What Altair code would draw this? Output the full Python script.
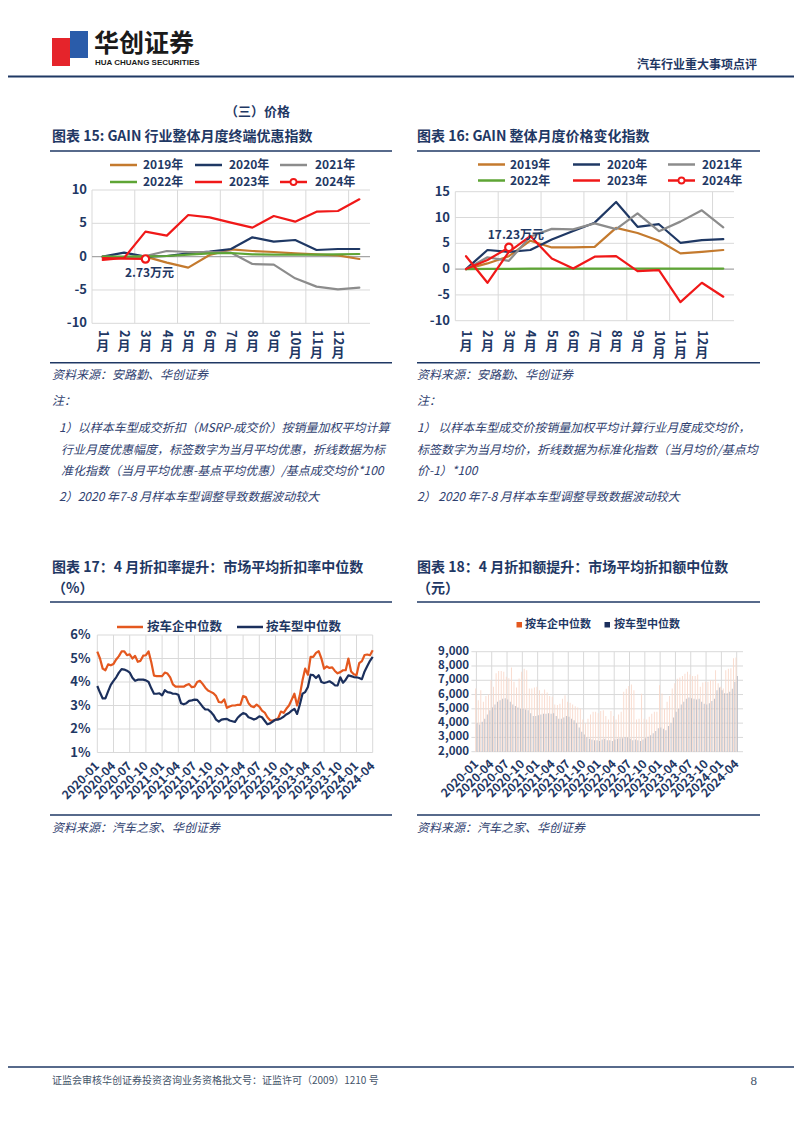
import altair as alt
import pandas as pd

OFF = 8
W, H = 786, 1117
CJK = "Noto Sans CJK SC"
NAVY = "#1F3864"
NOTE_C = "#2F4170"
GRID = "#D9D9D9"
ZERO = "#A6A6A6"
RED = "#F01818"

# ---------------- data: figures 15 / 16 ----------------
month_digits = ["1", "2", "3", "4", "5", "6", "7", "8", "9", "10", "11", "12"]
years = ["2019年", "2020年", "2021年", "2022年", "2023年", "2024年"]
year_colors = ["#C47A2E", "#1F3864", "#8C8C8C", "#5EA535", RED, RED]

f15_2019 = [0, -0.1, 0, -0.9, -1.65, 0.25, 1.1, 0.85, 0.7, 0.5, 0.35, 0.2, -0.35]
f15_2020 = [0, 0.6, 0, 0.1, 0.5, 0.75, 1.15, 2.9, 2.25, 2.5, 1.0, 1.15, 1.15]
f15_2021 = [0, -0.1, 0.1, 0.85, 0.7, 0.7, 0.6, -1.1, -1.2, -3.25, -4.5, -4.9, -4.65]
f15_2022 = [0, 0, 0.05, 0.1, 0.3, 0.5, 0.55, 0.35, 0.3, 0.3, 0.3, 0.35, 0.4]
f15_2023 = [-0.5, -0.2, 3.75, 3.15, 6.25, 5.9, 5.1, 4.35, 6.1, 5.25, 6.75, 6.85, 8.6]
f15_2024 = [-0.2, -0.3, -0.35]
f15_ticks = [10, 5, 0, -5, -10]
f15_tick_labels = ["10", "5", "0", "-5", "-10"]
f15_note = "2.73万元"

f16_2019 = [0, 1.1, 2.5, 5.5, 4.2, 4.2, 4.3, 8.0, 7.0, 5.5, 3.05, 3.35, 3.7]
f16_2020 = [0, 3.7, 3.35, 3.7, 5.75, 7.4, 9.0, 13.0, 8.2, 8.7, 5.1, 5.6, 5.8]
f16_2021 = [0, 2.3, 1.6, 6.3, 7.8, 7.7, 8.85, 7.75, 10.8, 7.35, 9.2, 11.4, 8.1]
f16_2022 = [0, 0.05, 0.05, 0.1, 0.1, 0.1, 0.1, 0.1, 0.1, 0.1, 0.1, 0.1, 0.1]
f16_2023 = [2.5, -2.65, 3.35, 6.4, 2.05, 0.1, 2.4, 2.5, -0.4, -0.2, -6.4, -2.65, -5.35]
f16_2024 = [0, 1.75, 4.2]
f16_ticks = [15, 10, 5, 0, -5, -10]
f16_tick_labels = ["15", "10", "5", "0", "-5", "-10"]
f16_note = "17.23万元"

# ---------------- data: figures 17 / 18 (half-month steps from 2020-01) ----------------
period = [k / 2 for k in range(103)]
tick_pos = [0, 3, 6, 9, 12, 15, 18, 21, 24, 27, 30, 33, 36, 39, 42, 45, 48, 51]
tick_labels = ["2020-01", "2020-04", "2020-07", "2020-10", "2021-01", "2021-04",
               "2021-07", "2021-10", "2022-01", "2022-04", "2022-07", "2022-10",
               "2023-01", "2023-04", "2023-07", "2023-10", "2024-01", "2024-04"]
series_names = ["按车企中位数", "按车型中位数"]

rate_firm = [5.29, 5.0, 4.57, 4.5, 4.75, 4.71, 4.77, 4.96, 5.1, 5.3,
             5.3, 5.14, 5.18, 5.0, 5.11, 4.86, 4.9, 5.12, 5.14, 5.3,
             4.84, 4.27, 4.25, 4.25, 4.25, 4.4, 4.36, 4.2, 3.9, 3.8,
             3.8, 3.8, 3.8, 3.87, 3.91, 3.78, 3.8, 4.0, 4.05, 3.92,
             3.76, 3.64, 3.58, 3.52, 3.4, 3.15, 3.13, 3.26, 2.9, 2.96,
             3.0, 3.0, 3.03, 3.03, 3.4, 3.36, 3.1, 2.97, 2.93, 3.04,
             2.95, 2.78, 2.7, 2.5, 2.37, 2.36, 2.39, 2.46, 2.74, 2.69,
             2.86, 3.0, 3.25, 3.5, 3.0, 3.43, 4.07, 4.57, 4.31, 5.07,
             5.07, 5.24, 5.31, 5.0, 4.57, 4.66, 4.6, 4.62, 4.47, 4.37,
             4.42, 4.5, 4.5, 5.0, 4.45, 4.33, 4.29, 4.8, 4.89, 5.15,
             5.17, 5.14, 5.35]
rate_model = [3.83, 3.55, 3.3, 3.3, 3.6, 3.88, 4.05, 4.2, 4.4, 4.55,
              4.53, 4.48, 4.4, 4.18, 4.05, 4.1, 4.1, 4.1, 4.07, 4.0,
              3.73, 3.5, 3.5, 3.52, 3.43, 3.65, 3.57, 3.55, 3.5, 3.5,
              3.46, 3.1, 3.05, 3.1, 3.2, 3.22, 3.25, 3.24, 3.1, 2.95,
              2.83, 2.83, 2.73, 2.6, 2.4, 2.31, 2.4, 2.42, 2.43, 2.36,
              2.33, 2.3, 2.48, 2.59, 2.68, 2.64, 2.5, 2.46, 2.4, 2.45,
              2.54, 2.5, 2.35, 2.2, 2.24, 2.32, 2.4, 2.4, 2.45, 2.52,
              2.62, 2.68, 2.78, 2.86, 2.64, 3.03, 3.5, 3.57, 3.79, 4.31,
              4.29, 4.17, 4.29, 4.0, 3.96, 3.99, 4.03, 3.96, 3.86, 3.85,
              4.2, 3.97, 4.1, 4.28, 4.25, 4.21, 4.2, 4.17, 4.12, 4.45,
              4.68, 4.9, 5.07]
rate_ticks = [1, 2, 3, 4, 5, 6]
rate_labels = ["1%", "2%", "3%", "4%", "5%", "6%"]

amt_firm = [6430, 5600, 6300, 5500, 5900, 6000, 7000, 6550, 7500, 7650,
            7650, 7600, 7250, 7150, 7900, 6900, 6500, 7130, 7600, 7800,
            7700, 6430, 6430, 6500, 6550, 6300, 6080, 6360, 6150, 5900,
            5850, 5300, 5270, 5350, 5700, 5950, 5500, 5430, 5300, 5180,
            5100, 5000, 4250, 4000, 4300, 4600, 4800, 4800, 4700, 4850,
            4900, 4500, 4250, 4850, 4500, 4250, 4600, 4800, 6200, 6400,
            6600, 6700, 6300, 4250, 4300, 6050, 4300, 4250, 4450, 4650,
            4800, 4800, 6650, 6080, 5000, 5500, 5900, 6430, 6800, 7100,
            7200, 7300, 7450, 7600, 7400, 7300, 7300, 7400, 6550, 6850,
            6900, 6900, 7000, 7000, 7700, 6800, 6550, 6430, 7700, 7800,
            7850, 8550, 8600]
amt_model = [4000, 3900, 4100, 4300, 4600, 4900, 5100, 5300, 5500, 5600,
             5700, 5750, 5650, 5500, 5300, 5200, 5100, 5000, 5000, 4950,
             4900, 4700, 4500, 4500, 4550, 4600, 4650, 4650, 4700, 4650,
             4700, 4500, 4300, 4300, 4400, 4500, 4450, 4300, 4200, 4000,
             3700, 3400, 3200, 3000, 2900, 2850, 2800, 2800, 2750, 2850,
             2900, 2800, 2800, 2750, 2850, 2900, 2950, 2950, 3000, 3000,
             2900, 2800, 2850, 2800, 2750, 2850, 2950, 3050, 3150, 3300,
             3450, 3650, 3700, 3600, 3500, 3800, 4000, 4400, 4800, 5000,
             5300, 5500, 5700, 5800, 5750, 5700, 5650, 5700, 5500, 5350,
             5300, 5400, 5550, 5700, 6300, 6500, 6300, 6100, 6100, 6200,
             6400, 6900, 7300]
amt_ticks = [2000, 3000, 4000, 5000, 6000, 7000, 8000, 9000]
amt_labels = ["2,000", "3,000", "4,000", "5,000", "6,000", "7,000", "8,000", "9,000"]


# ---------------- helpers ----------------
def one():
    return pd.DataFrame({"k": [0]})


def T(s, x, y, size=12, color=NAVY, weight="normal", align="left",
      baseline="middle", style="normal", font=CJK):
    return alt.Chart(pd.DataFrame({"t": [s]})).mark_text(
        fontSize=size, color=color, fontWeight=weight, align=align,
        baseline=baseline, fontStyle=style, font=font
    ).encode(text="t:N", x=alt.value(x - OFF), y=alt.value(y - OFF))


def HL(x1, x2, y, color=NAVY, w=1.5):
    return alt.Chart(one()).mark_rule(color=color, strokeWidth=w).encode(
        x=alt.value(x1 - OFF), x2=alt.value(x2 - OFF), y=alt.value(y - OFF))


def RECT(x1, y1, x2, y2, color):
    return alt.Chart(one()).mark_rect(color=color).encode(
        x=alt.value(x1 - OFF), x2=alt.value(x2 - OFF),
        y=alt.value(y1 - OFF), y2=alt.value(y2 - OFF))


def DOT(x, y, color, size=40):
    return alt.Chart(one()).mark_point(
        shape="circle", fill="white", fillOpacity=1, stroke=color,
        strokeWidth=1.8, size=size, opacity=1
    ).encode(x=alt.value(x - OFF), y=alt.value(y - OFF))


def month_panel(values, x0, x1, ytop, ybot, ydom, ticks, tick_labels_, ylab_x,
                note, note_dx, note_dy, leg_rows, leg_lines, leg_text):
    xs = alt.Scale(domain=[0.5, 13.5], range=[x0 - OFF, x1 - OFF], nice=False, zero=False)
    ys = alt.Scale(domain=ydom, range=[ybot - OFF, ytop - OFF], nice=False, zero=False)

    def X(f):
        return alt.X(f, scale=xs, axis=None)

    def Y(f):
        return alt.Y(f, scale=ys, axis=None)

    layers = []
    vg = pd.DataFrame({"g": [0.5, 2.5, 4.5, 6.5, 8.5, 10.5, 12.5]})
    layers.append(alt.Chart(vg).mark_rule(color=GRID, strokeWidth=1).encode(
        x=X("g:Q"), y=alt.value(ytop - OFF), y2=alt.value(ybot - OFF)))
    hg = pd.DataFrame({"g": [v for v in ticks if v != 0]})
    layers.append(alt.Chart(hg).mark_rule(color=GRID, strokeWidth=1).encode(
        y=Y("g:Q"), x=alt.value(x0 - OFF), x2=alt.value(x1 - OFF)))
    layers.append(alt.Chart(pd.DataFrame({"g": [0]})).mark_rule(color=ZERO, strokeWidth=1.2).encode(
        y=Y("g:Q"), x=alt.value(x0 - OFF), x2=alt.value(x1 - OFF)))
    for vals, c in zip(values, year_colors):
        df = pd.DataFrame({"m": list(range(1, len(vals) + 1)), "v": vals})
        layers.append(alt.Chart(df).mark_line(
            color=c, strokeWidth=2.2, strokeJoin="round", strokeCap="round"
        ).encode(x=X("m:Q"), y=Y("v:Q")))
    last = values[-1]
    pt = pd.DataFrame({"m": [len(last)], "v": [last[-1]], "t": [note]})
    layers.append(alt.Chart(pt).mark_point(
        shape="circle", fill="white", fillOpacity=1, stroke=RED, strokeWidth=2.2,
        size=55, opacity=1).encode(x=X("m:Q"), y=Y("v:Q")))
    layers.append(alt.Chart(pt).mark_text(
        fontSize=12, fontWeight="bold", color=NAVY, font=CJK, dx=note_dx, dy=note_dy
    ).encode(x=X("m:Q"), y=Y("v:Q"), text="t:N"))
    # y tick labels
    yl = pd.DataFrame({"v": ticks, "l": tick_labels_})
    layers.append(alt.Chart(yl).mark_text(
        align="right", baseline="middle", fontSize=13, fontWeight="bold", color=NAVY, font=CJK
    ).encode(y=Y("v:Q"), x=alt.value(ylab_x - OFF), text="l:N"))
    # x labels: rotated digits + upright 月
    xd = pd.DataFrame({"m": list(range(1, 13)), "d": month_digits})
    layers.append(alt.Chart(xd).mark_text(
        angle=90, align="left", baseline="middle", fontSize=13, fontWeight="bold",
        color=NAVY, font=CJK
    ).encode(x=X("m:Q"), y=alt.value(330 - OFF), text="d:N"))
    for ms, yy in ((list(range(1, 10)), 345.5), (list(range(10, 13)), 352.5)):
        mdf = pd.DataFrame({"m": ms, "c": ["月"] * len(ms)})
        layers.append(alt.Chart(mdf).mark_text(
            align="center", baseline="middle", fontSize=13, fontWeight="bold",
            color=NAVY, font=CJK
        ).encode(x=X("m:Q"), y=alt.value(yy - OFF), text="c:N"))
    # legend
    for i, (name, c) in enumerate(zip(years, year_colors)):
        row, col = i // 3, i % 3
        yy = leg_rows[row]
        lx1, lx2 = leg_lines[col]
        layers.append(HL(lx1, lx2, yy, c, 2.5))
        if i == 5:
            layers.append(DOT((lx1 + lx2) / 2, yy, RED, 36))
        layers.append(T(name, leg_text[col], yy, 12, NAVY, "bold"))
    return alt.layer(*layers)


def rate_panel():
    xs = alt.Scale(domain=[0, 51], range=[97.3 - OFF, 372.7 - OFF], nice=False, zero=False)
    ys = alt.Scale(domain=[1, 6], range=[752.5 - OFF, 635 - OFF], nice=False, zero=False)
    layers = []
    layers.append(alt.Chart(pd.DataFrame({"g": tick_pos})).mark_rule(color=GRID).encode(
        x=alt.X("g:Q", scale=xs, axis=None), y=alt.value(635 - OFF), y2=alt.value(752.5 - OFF)))
    layers.append(alt.Chart(pd.DataFrame({"g": rate_ticks})).mark_rule(color=GRID).encode(
        y=alt.Y("g:Q", scale=ys, axis=None), x=alt.value(97.3 - OFF), x2=alt.value(372.7 - OFF)))
    for vals, c in ((rate_firm, "#E4581F"), (rate_model, "#1B2F5C")):
        df = pd.DataFrame({"t": period, "v": vals})
        layers.append(alt.Chart(df).mark_line(color=c, strokeWidth=2.2, strokeJoin="round").encode(
            x=alt.X("t:Q", scale=xs, axis=None), y=alt.Y("v:Q", scale=ys, axis=None)))
    layers.append(alt.Chart(pd.DataFrame({"v": rate_ticks, "l": rate_labels})).mark_text(
        align="right", baseline="middle", fontSize=13, fontWeight="bold", color=NAVY, font=CJK
    ).encode(y=alt.Y("v:Q", scale=ys, axis=None), x=alt.value(90.5 - OFF), text="l:N"))
    layers.append(alt.Chart(pd.DataFrame({"g": tick_pos, "l": tick_labels})).mark_text(
        angle=315, align="right", baseline="middle", fontSize=12, fontWeight="bold",
        color=NAVY, font=CJK
    ).encode(x=alt.X("g:Q", scale=xs, axis=None), y=alt.value(764 - OFF), text="l:N"))
    # legend
    layers.append(HL(117, 143, 627, "#E4581F", 2.5))
    layers.append(T(series_names[0], 147, 627, 12.5, NAVY, "bold"))
    layers.append(HL(237, 263, 627, "#1B2F5C", 2.5))
    layers.append(T(series_names[1], 266, 627, 12.5, NAVY, "bold"))
    return alt.layer(*layers)


def amount_panel():
    xs = alt.Scale(domain=[0, 51], range=[471.4 - OFF, 741.7 - OFF], nice=False, zero=False)
    ys = alt.Scale(domain=[2000, 9000], range=[751.7 - OFF, 651.7 - OFF], nice=False, zero=False)
    layers = []
    layers.append(alt.Chart(pd.DataFrame({"g": tick_pos})).mark_rule(color=GRID).encode(
        x=alt.X("g:Q", scale=xs, axis=None), y=alt.value(651.7 - OFF), y2=alt.value(751.7 - OFF)))
    layers.append(alt.Chart(pd.DataFrame({"g": amt_ticks})).mark_rule(color=GRID).encode(
        y=alt.Y("g:Q", scale=ys, axis=None), x=alt.value(471.4 - OFF), x2=alt.value(743 - OFF)))
    for vals, c, off in ((amt_firm, "#F9D9CB", -0.7), (amt_model, "#B9BCC6", 0.7)):
        df = pd.DataFrame({"t": period, "v": vals})
        layers.append(alt.Chart(df).mark_bar(color=c, size=0.9, xOffset=off).encode(
            x=alt.X("t:Q", scale=xs, axis=None), y=alt.Y("v:Q", scale=ys, axis=None),
            y2=alt.datum(2000)))
    layers.append(alt.Chart(pd.DataFrame({"v": amt_ticks, "l": amt_labels})).mark_text(
        align="right", baseline="middle", fontSize=11.5, fontWeight="bold", color=NAVY, font=CJK
    ).encode(y=alt.Y("v:Q", scale=ys, axis=None), x=alt.value(469 - OFF), text="l:N"))
    layers.append(alt.Chart(pd.DataFrame({"g": tick_pos, "l": tick_labels})).mark_text(
        angle=315, align="right", baseline="middle", fontSize=12, fontWeight="bold",
        color=NAVY, font=CJK
    ).encode(x=alt.X("g:Q", scale=xs, axis=None), y=alt.value(762 - OFF), text="l:N"))
    # legend
    layers.append(RECT(516.5, 622, 522, 627.5, "#E4581F"))
    layers.append(T(series_names[0], 525, 625, 11, NAVY, "bold"))
    layers.append(RECT(604.5, 622, 610, 627.5, "#1B2F5C"))
    layers.append(T(series_names[1], 614, 625, 11, NAVY, "bold"))
    return alt.layer(*layers)


# ---------------- page decoration ----------------
decor = [
    RECT(52, 38, 70, 66, "#E5242B"),
    RECT(70, 31, 88, 58, "#2A5CAA"),
    T("华创证券", 94, 43.5, 25, "#1A1A1A", "bold"),
    T("HUA CHUANG SECURITIES", 95, 62.5, 8, "#1A1A1A", "bold", font="Liberation Sans"),
    T("汽车行业重大事项点评", 757, 65, 12, NAVY, "bold", align="right"),
    HL(8, 794, 76.5, NAVY, 2),
    T("（三）价格", 225, 112, 13, NAVY, "bold"),
    T("图表 15: GAIN 行业整体月度终端优惠指数", 52, 137, 14, NAVY, "bold"),
    T("图表 16: GAIN 整体月度价格变化指数", 417, 137, 14, NAVY, "bold"),
    HL(50, 392, 151, NAVY, 1.5),
    HL(417, 760, 151, NAVY, 1.5),
    HL(50, 392, 362.7, NAVY, 1.5),
    HL(417, 760, 362.7, NAVY, 1.5),
    T("资料来源：安路勤、华创证券", 52, 375, 12, NOTE_C, style="italic"),
    T("资料来源：安路勤、华创证券", 417, 375, 12, NOTE_C, style="italic"),
    T("注：", 52, 401, 12, NOTE_C, style="italic"),
    T("注：", 417, 401, 12, NOTE_C, style="italic"),
    T("1）以样本车型成交折扣（MSRP-成交价）按销量加权平均计算", 59, 428, 12, NOTE_C, style="italic"),
    T("行业月度优惠幅度，标签数字为当月平均优惠，折线数据为标", 61, 450, 12, NOTE_C, style="italic"),
    T("准化指数（当月平均优惠-基点平均优惠）/基点成交均价*100", 61, 471, 12, NOTE_C, style="italic"),
    T("2）2020 年7-8 月样本车型调整导致数据波动较大", 59, 497, 12, NOTE_C, style="italic"),
    T("1）   以样本车型成交价按销量加权平均计算行业月度成交均价，", 417, 428, 12, NOTE_C, style="italic"),
    T("标签数字为当月均价，折线数据为标准化指数（当月均价/基点均", 417, 450, 12, NOTE_C, style="italic"),
    T("价-1）*100", 417, 471, 12, NOTE_C, style="italic"),
    T("2）   2020 年7-8 月样本车型调整导致数据波动较大", 417, 497, 12, NOTE_C, style="italic"),
    T("图表 17：4 月折扣率提升：市场平均折扣率中位数", 52, 568, 14, NAVY, "bold"),
    T("（%）", 52, 589, 14, NAVY, "bold"),
    T("图表 18：4 月折扣额提升：市场平均折扣额中位数", 417, 568, 14, NAVY, "bold"),
    T("（元）", 417, 589, 14, NAVY, "bold"),
    HL(50, 392, 602, NAVY, 1.5),
    HL(417, 760, 602, NAVY, 1.5),
    HL(50, 392, 815, NAVY, 1.5),
    HL(417, 760, 815, NAVY, 1.5),
    T("资料来源：汽车之家、华创证券", 52, 828, 12, NOTE_C, style="italic"),
    T("资料来源：汽车之家、华创证券", 417, 828, 12, NOTE_C, style="italic"),
    HL(8, 794, 1067, NAVY, 1.5),
    T("证监会审核华创证券投资咨询业务资格批文号：证监许可（2009）1210 号", 52, 1081, 10, "#44546A"),
    T("8", 757, 1081, 13, "#44546A", align="right", font="Liberation Serif"),
]

p15 = month_panel([f15_2019, f15_2020, f15_2021, f15_2022, f15_2023, f15_2024],
                  92, 370, 190, 323.3, [-10, 10], f15_ticks, f15_tick_labels, 87,
                  f15_note, 4, 14, [165, 182], [(110, 137), (195, 222), (280, 307)],
                  [143, 229, 315])
p16 = month_panel([f16_2019, f16_2020, f16_2021, f16_2022, f16_2023, f16_2024],
                  455.3, 734, 191.7, 320.7, [-10, 15], f16_ticks, f16_tick_labels, 450,
                  f16_note, 7, -12, [164.5, 180.5], [(478, 505), (573, 600), (668, 695)],
                  [510, 607, 702])

chart = alt.layer(
    *decor, p15, p16, rate_panel(), amount_panel()
).resolve_scale(
    x="independent", y="independent"
).properties(
    width=W, height=H, padding=0, autosize=alt.AutoSizeParams(type="none"),
    background="white"
).configure_view(stroke=None)

chart.save("out.html", embed_options={"renderer": "svg", "actions": False})
